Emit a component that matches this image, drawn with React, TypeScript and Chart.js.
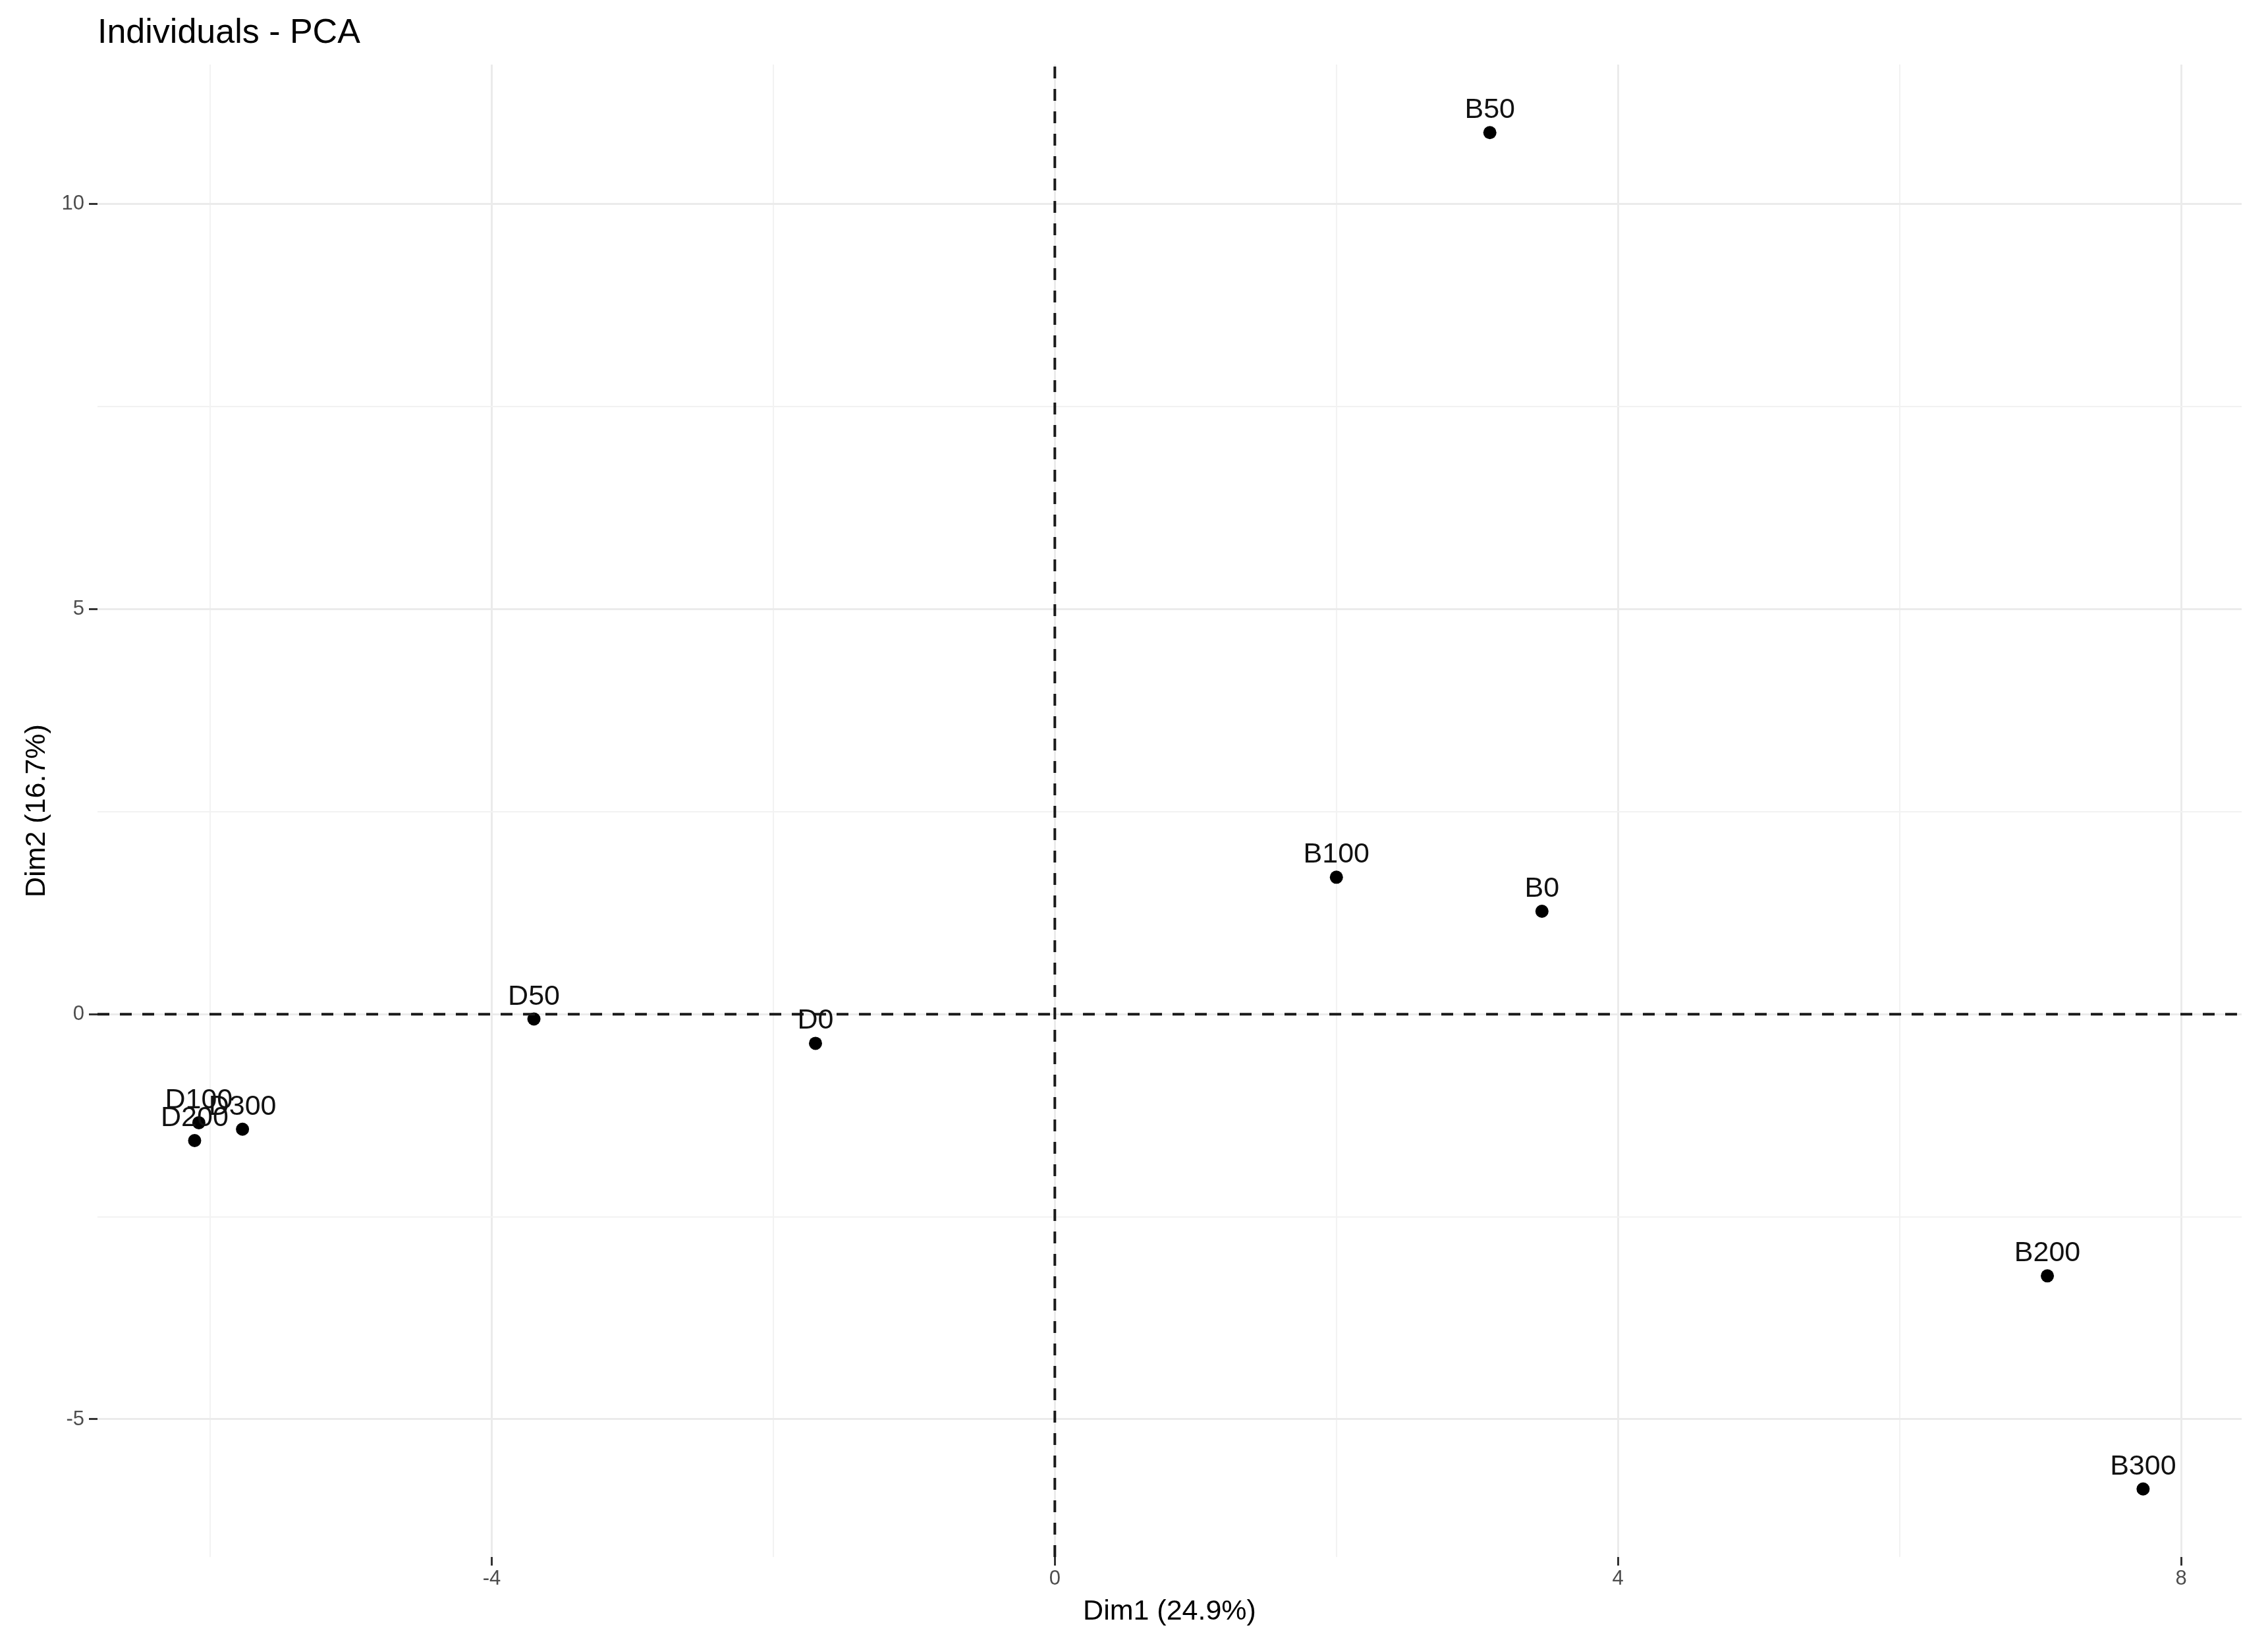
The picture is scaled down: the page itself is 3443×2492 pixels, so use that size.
import React, { useEffect, useRef } from "react";
import { Chart, registerables } from "chart.js";

Chart.register(...registerables);

// ---- data ----
const individuals = ["B0", "B50", "B100", "B200", "B300", "D0", "D50", "D100", "D200", "D300"];
const dim1 = [3.46, 3.09, 2.0, 7.05, 7.73, -1.7, -3.7, -6.08, -6.11, -5.77];
const dim2 = [1.27, 10.88, 1.69, -3.23, -5.86, -0.36, -0.06, -1.34, -1.56, -1.42];

const chartTitle = "Individuals - PCA";
const xTitle = "Dim1 (24.9%)";
const yTitle = "Dim2 (16.7%)";

const xMin = -6.8;
const xMax = 8.43;
const yMin = -6.7;
const yMax = 11.72;
const xStep = 2; // gridline spacing (minor + major)
const yStep = 2.5;
const xLabelEvery = 4;
const yLabelEvery = 5;

const FONT = "'Liberation Sans', Arial, Helvetica, sans-serif";

export default function App() {
  const ref = useRef<HTMLCanvasElement | null>(null);

  useEffect(() => {
    document.body.style.margin = "0";
    const canvas = ref.current;
    if (!canvas) return;

    const points = dim1.map((x, i) => ({ x, y: dim2[i] }));

    const isMajor = (v: number, every: number) => Math.abs(v / every - Math.round(v / every)) < 1e-9;

    const labelPlugin = {
      id: "pointLabels",
      afterDatasetsDraw(chart: any) {
        const ctx = chart.ctx;
        const meta = chart.getDatasetMeta(2);
        ctx.save();
        ctx.font = `43px ${FONT}`;
        ctx.fillStyle = "#111111";
        ctx.textAlign = "center";
        ctx.textBaseline = "alphabetic";
        meta.data.forEach((el: any, i: number) => {
          ctx.fillText(individuals[i], el.x, el.y - 22);
        });
        ctx.restore();
      },
    };

    const titlePlugin = {
      id: "plotTitle",
      afterDraw(chart: any) {
        const ctx = chart.ctx;
        ctx.save();
        ctx.font = `52px ${FONT}`;
        ctx.fillStyle = "#000000";
        ctx.textAlign = "left";
        ctx.textBaseline = "alphabetic";
        ctx.fillText(chartTitle, chart.chartArea.left, 65);
        ctx.restore();
      },
    };

    const chart = new Chart(canvas, {
      type: "scatter",
      data: {
        datasets: [
          {
            label: "hline",
            type: "line",
            data: [
              { x: xMin, y: 0 },
              { x: xMax, y: 0 },
            ],
            borderColor: "#1a1a1a",
            borderWidth: 4,
            borderDash: [18, 16],
            pointRadius: 0,
            fill: false,
          } as any,
          {
            label: "vline",
            type: "line",
            data: [
              { x: 0, y: yMin },
              { x: 0, y: yMax },
            ],
            borderColor: "#1a1a1a",
            borderWidth: 4,
            borderDash: [18, 16],
            pointRadius: 0,
            fill: false,
          } as any,
          {
            label: "Individuals",
            data: points,
            backgroundColor: "#000000",
            borderWidth: 0,
            pointRadius: 10,
          },
        ],
      },
      options: {
        responsive: false,
        animation: false,
        events: [],
        layout: {
          autoPadding: false,
          padding: { top: 98, right: 40, left: 0, bottom: 0 },
        },
        plugins: {
          legend: { display: false },
          tooltip: { enabled: false },
          title: { display: false },
        },
        scales: {
          x: {
            type: "linear",
            position: "bottom",
            min: xMin,
            max: xMax,
            border: { display: false },
            afterFit(scale: any) {
              scale.height = 129;
            },
            grid: {
              color: (c: any) => (isMajor(c.tick.value, xLabelEvery) ? "#ebebeb" : "#f2f2f2"),
              lineWidth: (c: any) => (isMajor(c.tick.value, xLabelEvery) ? 3 : 2),
              tickColor: (c: any) => (isMajor(c.tick.value, xLabelEvery) ? "#333333" : "rgba(0,0,0,0)"),
              tickWidth: 3,
              tickLength: 13,
              drawTicks: true,
            },
            ticks: {
              stepSize: xStep,
              includeBounds: false,
              autoSkip: false,
              maxRotation: 0,
              padding: 2,
              color: "#4d4d4d",
              font: { family: FONT, size: 31 },
              callback: (v: any) => (isMajor(Number(v), xLabelEvery) ? String(Math.round(Number(v))) : ""),
            },
            title: {
              display: true,
              text: xTitle,
              color: "#000000",
              font: { family: FONT, size: 43 },
              padding: { top: 0, bottom: 20 },
            },
          },
          y: {
            type: "linear",
            position: "left",
            min: yMin,
            max: yMax,
            border: { display: false },
            afterFit(scale: any) {
              scale.width = 148;
            },
            grid: {
              color: (c: any) => (isMajor(c.tick.value, yLabelEvery) ? "#ebebeb" : "#f2f2f2"),
              lineWidth: (c: any) => (isMajor(c.tick.value, yLabelEvery) ? 3 : 2),
              tickColor: (c: any) => (isMajor(c.tick.value, yLabelEvery) ? "#333333" : "rgba(0,0,0,0)"),
              tickWidth: 3,
              tickLength: 13,
              drawTicks: true,
            },
            ticks: {
              stepSize: yStep,
              includeBounds: false,
              autoSkip: false,
              padding: 7,
              color: "#4d4d4d",
              font: { family: FONT, size: 31 },
              callback: (v: any) => (isMajor(Number(v), yLabelEvery) ? String(Math.round(Number(v))) : ""),
            },
            title: {
              display: true,
              text: yTitle,
              color: "#000000",
              font: { family: FONT, size: 43 },
              padding: { top: 30, bottom: 0 },
            },
          },
        },
      },
      plugins: [labelPlugin, titlePlugin],
    } as any);

    return () => chart.destroy();
  }, []);

  return (
    <div style={{ width: 3443, height: 2492, background: "#ffffff" }}>
      <canvas ref={ref} width={3443} height={2492} style={{ display: "block" }} />
    </div>
  );
}
